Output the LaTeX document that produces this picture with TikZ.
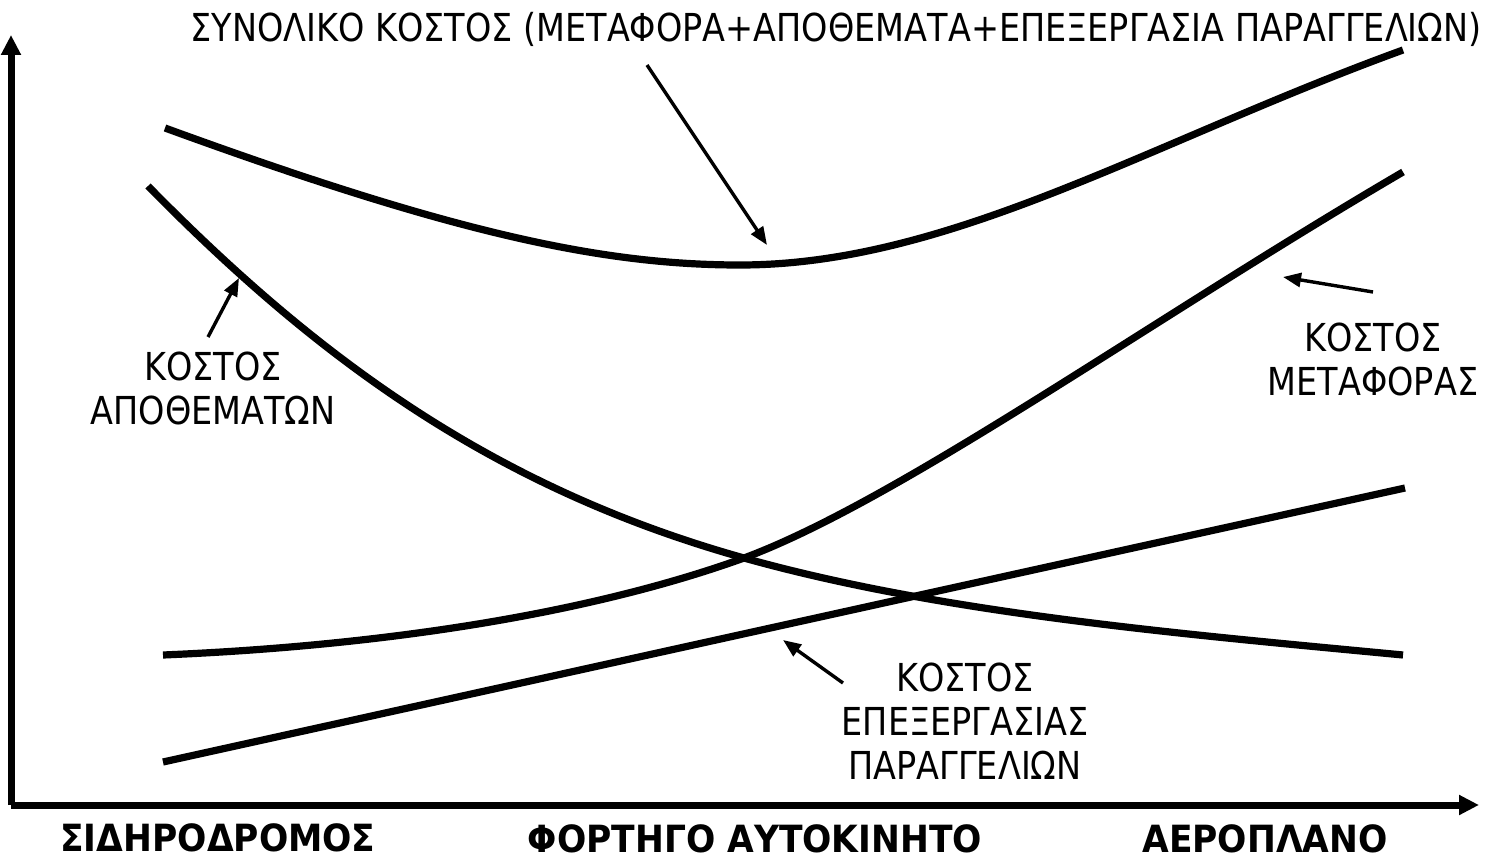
\documentclass[tikz,border=0pt]{standalone}
\usepackage{fontspec}
\setmainfont{DejaVu Sans}[FakeStretch=0.87]
\newfontfamily\catfont{DejaVu Sans}[FakeStretch=0.92]
\usetikzlibrary{arrows.meta}
\tikzset{
  curve/.style={line width=7.2pt, line cap=butt},
  axis/.style={line width=7pt, -{Triangle[length=20pt,width=19pt]}},
  pointer/.style={line width=3.4pt, -{Triangle[length=18pt,width=14pt]}},
  lbl/.style={inner sep=0pt, align=center, font=\fontsize{38.5}{44}\selectfont},
  cat/.style={inner sep=0pt, anchor=base, font=\catfont\fontsize{37.5}{44}\selectfont\bfseries},
}
\begin{document}
\begin{tikzpicture}[x=1pt,y=-1pt]
\useasboundingbox (0,0) rectangle (1499,861);
% axes
\coordinate (origin) at (11,805);
\coordinate (ytip) at (11,35);
\coordinate (xtip) at (1479,805);
\draw[axis] (origin) -- (ytip);
\draw[axis] (origin) -- (xtip);
% total cost
\coordinate (t0) at (165,128);
\coordinate (tm) at (740,265);
\coordinate (t1) at (1403,50);
\draw[curve] (t0) .. controls (450,232) and (600,265) .. (tm)
  .. controls (950,265) and (1150,142) .. (t1);
% inventory cost
\coordinate (i0) at (148,186);
\coordinate (x1) at (744,558);
\coordinate (i1) at (1403,655);
\draw[curve] (i0) .. controls (318,359) and (494,488) .. (x1)
  .. controls (944,614) and (1183,634) .. (i1);
% transport cost
\coordinate (m0) at (163,655);
\coordinate (m1) at (1403,172);
\draw[curve] (m0) .. controls (400,645) and (600,610) .. (x1)
  .. controls (900,500) and (1150,320) .. (m1);
% order processing cost
\coordinate (o1) at (163,762);
\coordinate (o2) at (1405,488);
\draw[curve] (o1) -- (o2);
% labels
\node[lbl, anchor=base] (title) at (836,42) {ΣΥΝΟΛΙΚΟ ΚΟΣΤΟΣ (ΜΕΤΑΦΟΡΑ+ΑΠΟΘΕΜΑΤΑ+ΕΠΕΞΕΡΓΑΣΙΑ ΠΑΡΑΓΓΕΛΙΩΝ)};
\node[lbl] (inv) at (213,388) {ΚΟΣΤΟΣ\\ΑΠΟΘΕΜΑΤΩΝ};
\node[lbl] (trans) at (1373,359) {ΚΟΣΤΟΣ\\ΜΕΤΑΦΟΡΑΣ};
\node[lbl] (order) at (965,721) {ΚΟΣΤΟΣ\\ΕΠΕΞΕΡΓΑΣΙΑΣ\\ΠΑΡΑΓΓΕΛΙΩΝ};
% pointers
\coordinate (ts) at (647,65);  \coordinate (tt) at (767,245);
\coordinate (is) at (208,337); \coordinate (it) at (239,278);
\coordinate (ms) at (1373,292); \coordinate (mt) at (1283,277);
\coordinate (os) at (843,683); \coordinate (ot) at (783,640);
\draw[pointer] (ts) -- (tt);
\draw[pointer] (is) -- (it);
\draw[pointer] (ms) -- (mt);
\draw[pointer] (os) -- (ot);
% categories
\node[cat] (rail) at (218,851) {ΣΙΔΗΡΟΔΡΟΜΟΣ};
\node[cat] (truck) at (755,852) {ΦΟΡΤΗΓΟ ΑΥΤΟΚΙΝΗΤΟ};
\node[cat] (plane) at (1265,852) {ΑΕΡΟΠΛΑΝΟ};
\end{tikzpicture}
\end{document}
